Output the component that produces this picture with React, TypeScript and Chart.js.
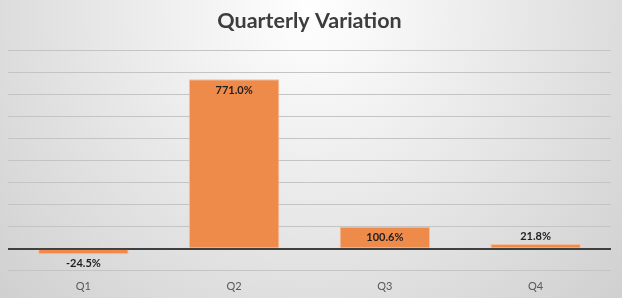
import React, { useEffect, useRef } from "react";
import { Chart, registerables } from "chart.js";

Chart.register(...registerables);

const categories = ["Q1", "Q2", "Q3", "Q4"];
const variation = [-24.5, 771.0, 100.6, 21.8];
const labelTexts = ["-24.5%", "771.0%", "100.6%", "21.8%"];
const chartTitle = "Quarterly Variation";

const bgPlugin = {
  id: "bgGradient",
  beforeDraw(chart: any) {
    const { ctx, width, height } = chart;
    ctx.save();
    const g = ctx.createRadialGradient(width / 2, 10, 0, width / 2, 10, 430);
    g.addColorStop(0, "#ffffff");
    g.addColorStop(1, "#cfcfcf");
    ctx.fillStyle = g;
    ctx.fillRect(0, 0, width, height);
    ctx.restore();
  },
};

const labelPlugin = {
  id: "barLabels",
  afterDatasetsDraw(chart: any) {
    const { ctx } = chart;
    const meta = chart.getDatasetMeta(0);
    ctx.save();
    ctx.font = "bold 11px Lato, 'Open Sans', sans-serif";
    ctx.fillStyle = "#1e1e1e";
    ctx.textAlign = "center";
    ctx.textBaseline = "middle";
    meta.data.forEach((bar: any, i: number) => {
      const v = variation[i];
      const top = Math.min(bar.y, bar.base);
      const bottom = Math.max(bar.y, bar.base);
      const h = bottom - top;
      let y: number;
      if (v < 0) y = bottom + 9;
      else if (h > 20) y = top + 11;
      else y = top - 8;
      ctx.fillText(labelTexts[i], bar.x, y);
    });
    ctx.restore();
  },
};

export default function App() {
  const ref = useRef<HTMLCanvasElement>(null);
  useEffect(() => {
    document.body.style.margin = "0";
    const chart = new Chart(ref.current!, {
      type: "bar",
      data: {
        labels: categories,
        datasets: [
          {
            data: variation,
            backgroundColor: "#EE8B4B",
            borderColor: "#F6BE98",
            borderWidth: 1,
            categoryPercentage: 1,
            barPercentage: 0.6,
          },
        ],
      },
      options: {
        animation: false,
        responsive: false,
        maintainAspectRatio: false,
        layout: { padding: { left: 8, right: 11, top: 0, bottom: -4 } },
        plugins: {
          legend: { display: false },
          tooltip: { enabled: false },
          title: {
            display: true,
            text: chartTitle,
            color: "#3d3d3d",
            font: { family: "Lato, 'Open Sans', sans-serif", size: 21.5, weight: "bold" },
            padding: { top: 8, bottom: 17 },
          },
        },
        scales: {
          x: {
            grid: { display: false, drawTicks: false },
            border: { display: false },
            ticks: {
              color: "#595959",
              padding: 9,
              font: { family: "Lato, 'Open Sans', sans-serif", size: 11 },
            },
          },
          y: {
            display: true,
            min: -100,
            max: 900,
            border: { display: false },
            grid: {
              drawTicks: false,
              color: (c: any) => (c.tick && c.tick.value === 0 ? "#3f3f3f" : "#c4c4c4"),
              lineWidth: (c: any) => (c.tick && c.tick.value === 0 ? 2 : 1),
            },
            ticks: { display: false, stepSize: 100 },
          },
        },
      },
      plugins: [bgPlugin, labelPlugin],
    });
    return () => chart.destroy();
  }, []);
  return (
    <div style={{ position: "fixed", left: 0, top: 0, width: 622, height: 298 }}>
      <canvas ref={ref} width={622} height={298} style={{ display: "block" }} />
    </div>
  );
}
